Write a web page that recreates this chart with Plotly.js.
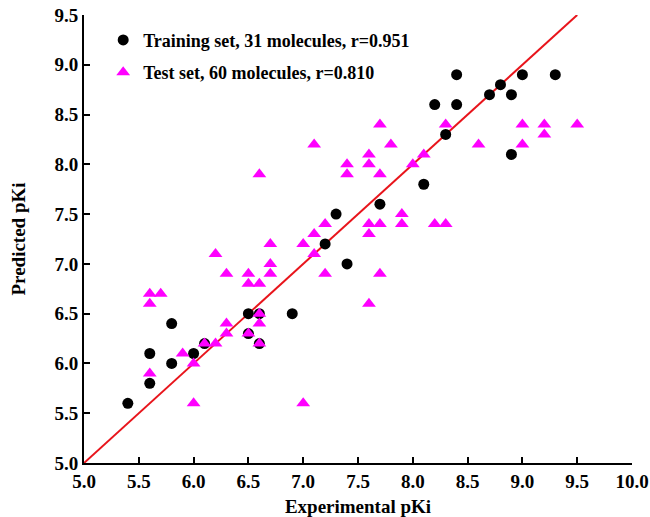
<!DOCTYPE html>
<html>
<head>
<meta charset="utf-8">
<script src="https://cdn.plot.ly/plotly-3.0.1.min.js"></script>
<style>html,body{margin:0;padding:0;background:#fff;}#chart{width:650px;height:517px;}</style>
</head>
<body>
<div id="chart"></div>
<script>
// Training set (black circles)
var trainExp  = [5.4, 5.6, 5.6, 5.8, 5.8, 6.0, 6.1, 6.5, 6.5, 6.6, 6.6, 6.9, 7.2, 7.3, 7.4, 7.7, 8.1, 8.2, 8.3, 8.4, 8.4, 8.7, 8.8, 8.9, 8.9, 9.0, 9.3];
var trainPred = [5.6, 6.1, 5.8, 6.4, 6.0, 6.1, 6.2, 6.5, 6.3, 6.5, 6.2, 6.5, 7.2, 7.5, 7.0, 7.6, 7.8, 8.6, 8.3, 8.9, 8.6, 8.7, 8.8, 8.7, 8.1, 8.9, 8.9];
// Test set (magenta triangles)
var testExp  = [5.6, 5.6, 5.7, 5.6, 5.9, 6.0, 6.0, 6.1, 6.2, 6.2, 6.3, 6.3, 6.3, 6.5, 6.5, 6.5, 6.6, 6.6, 6.6, 6.6, 6.6, 6.7, 6.7, 6.7, 7.0, 7.0, 7.1, 7.1, 7.1, 7.2, 7.2, 7.4, 7.4, 7.6, 7.6, 7.6, 7.6, 7.6, 7.7, 7.7, 7.7, 7.7, 7.8, 7.9, 7.9, 8.0, 8.1, 8.2, 8.3, 8.3, 8.6, 9.0, 9.0, 9.2, 9.2, 9.5];
var testPred = [6.7, 6.6, 6.7, 5.9, 6.1, 6.0, 5.6, 6.2, 6.2, 7.1, 6.9, 6.4, 6.3, 6.9, 6.8, 6.3, 6.8, 6.5, 6.4, 6.2, 7.9, 7.2, 7.0, 6.9, 7.2, 5.6, 8.2, 7.3, 7.1, 7.4, 6.9, 8.0, 7.9, 8.1, 8.0, 7.4, 7.3, 6.6, 8.4, 7.9, 7.4, 6.9, 8.2, 7.5, 7.4, 8.0, 8.1, 7.4, 8.4, 7.4, 8.2, 8.4, 8.2, 8.4, 8.3, 8.4];
// y = x reference line
var lineX = [5.0, 9.5];
var lineY = [5.0, 9.5];
var tickVals = [5.0, 5.5, 6.0, 6.5, 7.0, 7.5, 8.0, 8.5, 9.0, 9.5, 10.0];
var tickText = ['5.0','5.5','6.0','6.5','7.0','7.5','8.0','8.5','9.0','9.5','10.0'];

var serif = 'Liberation Serif, Times New Roman, serif';

var traces = [
  {x: lineX, y: lineY, mode: 'lines', line: {color: '#e8141b', width: 2}, showlegend: false, hoverinfo: 'skip'},
  {x: trainExp, y: trainPred, mode: 'markers', type: 'scatter', name: 'Training set, 31 molecules, r=0.951',
   legendrank: 1, legendgroup: 'train', marker: {symbol: 'circle', size: 11, color: '#000000'}},
  {x: testExp, y: testPred, mode: 'markers', type: 'scatter', name: 'Test set, 60 molecules, r=0.810',
   legendrank: 2, legendgroup: 'test', marker: {symbol: 'triangle-up', size: 12, color: '#ff00ff'}}
];

var tf = {family: serif, size: 19, color: '#000', weight: 'bold'};
var axisCommon = {
  showgrid: false, zeroline: false, showline: true, linecolor: '#000', linewidth: 2,
  ticks: 'inside', ticklen: 6, tickwidth: 2, tickcolor: '#000',
  tickfont: tf, tickvals: tickVals, ticktext: tickText
};

var layout = {
  width: 650, height: 517,
  margin: {l: 84, r: 18, t: 15, b: 54},
  paper_bgcolor: '#fff', plot_bgcolor: '#fff',
  xaxis: Object.assign({}, axisCommon, {range: [5.0, 10.0],
    title: {text: 'Experimental pKi', font: {family: serif, size: 19, color: '#000', weight: 'bold'}, standoff: 9}}),
  yaxis: Object.assign({}, axisCommon, {range: [5.0, 9.5], tickvals: tickVals.slice(0, 10), ticktext: tickText.slice(0, 10),
    title: {text: 'Predicted pKi', font: {family: serif, size: 19, color: '#000', weight: 'bold'}, standoff: 24}}),
  legend: {x: 0.035, y: 0.985, xanchor: 'left', yanchor: 'top', bgcolor: 'rgba(0,0,0,0)',
    font: {family: serif, size: 18, color: '#000', weight: 'bold'},
    traceorder: 'grouped', tracegroupgap: 6, itemwidth: 30},
  showlegend: true
};

Plotly.newPlot('chart', traces, layout, {displayModeBar: false, staticPlot: true});
</script>
</body>
</html>
